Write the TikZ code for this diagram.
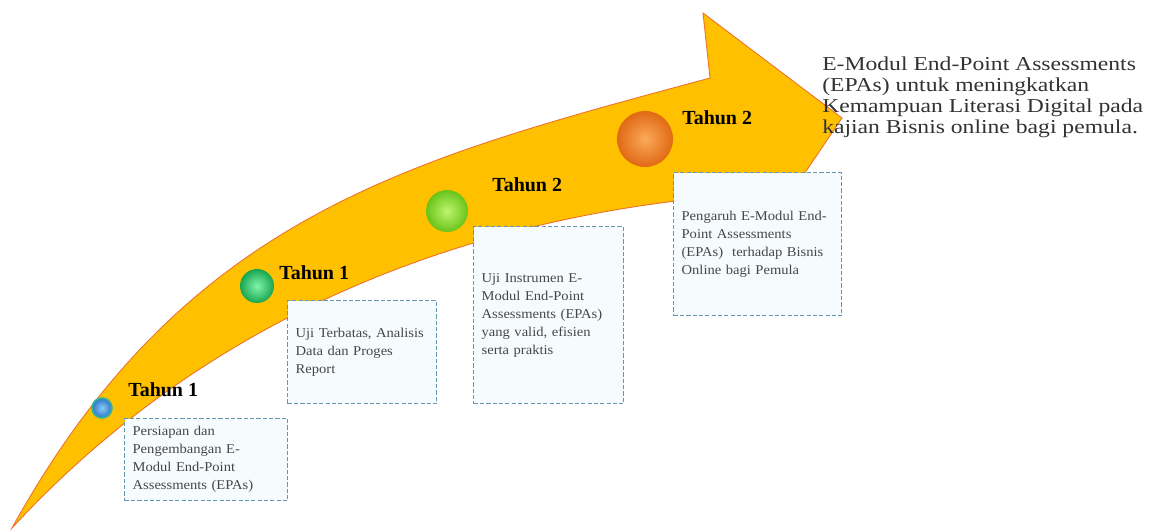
\documentclass[tikz,border=0pt]{standalone}
\usepackage{fontspec}
\setmainfont{Liberation Serif}
\newfontfamily\goalfont[FakeStretch=1.2]{Liberation Serif}
\newfontfamily\notefont[FakeStretch=1.08]{Liberation Serif}

\definecolor{arrowgold}{RGB}{255,192,0}
\definecolor{arrowedge}{RGB}{236,112,40}
\definecolor{notedash}{RGB}{100,150,175}
\definecolor{notefill}{RGB}{246,252,254}
\definecolor{notetext}{RGB}{70,70,70}
\definecolor{goaltext}{RGB}{50,50,50}
% milestone colours
\definecolor{blueIn}{RGB}{140,200,245}
\definecolor{blueOut}{RGB}{40,120,200}
\definecolor{blueRim}{RGB}{60,180,150}
\definecolor{greenIn}{RGB}{130,245,170}
\definecolor{greenOut}{RGB}{25,165,80}
\definecolor{limeIn}{RGB}{190,245,110}
\definecolor{limeOut}{RGB}{105,195,25}
\definecolor{orangeIn}{RGB}{250,170,90}
\definecolor{orangeOut}{RGB}{225,105,20}

\tikzset{
  note/.style={draw=notedash,fill=notefill,dash pattern=on 3pt off 1.5pt,
    line width=0.9pt,anchor=north west,align=left,inner xsep=0.2cm,inner ysep=0pt,
    text=notetext,font=\notefont\fontsize{9.6pt}{12.8pt}\selectfont},
  year/.style={anchor=west,inner sep=0pt,font=\fontsize{14.2pt}{16pt}\selectfont\bfseries},
  gem/.style={circle,inner sep=0pt,shading=radial},
  goal/.style={anchor=west,align=left,inner sep=0pt,text=goaltext,
    font=\goalfont\fontsize{14pt}{15pt}\selectfont}
}

\begin{document}
\begin{tikzpicture}[x=0.025cm,y=-0.025cm]
  \useasboundingbox (0,0) rectangle (1159,532);
  % the big curved arrow
  \filldraw[fill=arrowgold,draw=arrowedge,line width=0.6pt]
    (12,528) .. controls (185,215) and (410,159) .. (710,78)
    -- (703,13) -- (842,118) -- (792,192)
    .. controls (560,200) and (250,270) .. (12,528)
    -- cycle;

  % milestones
  \node[gem,minimum size=0.5cm,inner color=blueIn,outer color=blueOut,
    draw=blueRim,line width=1.2pt] (g1) at (102,408) {};
  \node[gem,minimum size=0.85cm,inner color=greenIn,outer color=greenOut] (g2) at (257,286) {};
  \node[gem,minimum size=1.05cm,inner color=limeIn,outer color=limeOut] (g3) at (447,211) {};
  \node[gem,minimum size=1.4cm,inner color=orangeIn,outer color=orangeOut] (g4) at (645,139) {};

  \node[year] (y1) at (128,390) {Tahun 1};
  \node[year] (y2) at (279,273) {Tahun 1};
  \node[year] (y3) at (492,185) {Tahun 2};
  \node[year] (y4) at (682,118) {Tahun 2};

  % notes
  \node[note,text width=3.675cm,minimum height=2.05cm] (n1) at (124,418)
    {Persiapan dan\\Pengembangan E-\\Modul End-Point\\Assessments (EPAs)};
  \node[note,text width=3.325cm,minimum height=2.575cm] (n2) at (287,300)
    {Uji Terbatas, Analisis\\Data dan Proges\\Report};
  \node[note,text width=3.35cm,minimum height=4.425cm] (n3) at (473,226)
    {Uji Instrumen E-\\Modul End-Point\\Assessments (EPAs)\\yang valid, efisien\\serta praktis};
  \node[note,text width=3.8cm,minimum height=3.575cm] (n4) at (673,172)
    {Pengaruh E-Modul End-\\Point Assessments\\(EPAs)~~terhadap Bisnis\\Online bagi Pemula};

  \node[goal] (goal) at (822,97)
    {E-Modul End-Point Assessments\\(EPAs) untuk meningkatkan\\Kemampuan Literasi Digital pada\\kajian Bisnis online bagi pemula.};
\end{tikzpicture}
\end{document}
